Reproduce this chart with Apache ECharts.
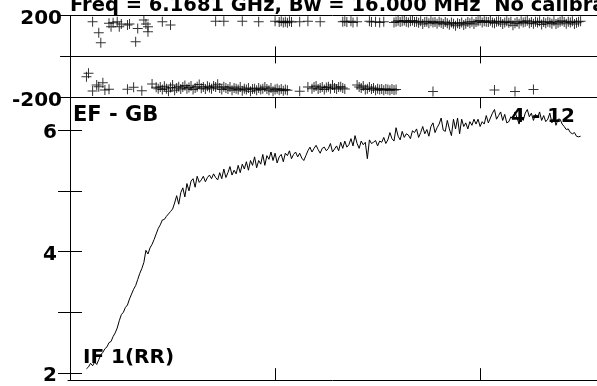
<!DOCTYPE html>
<html lang="en">
<head>
<meta charset="UTF-8">
<title>POSSM EF - GB</title>
<style>
  * { margin: 0; padding: 0; }
  body { background: #fff; }
</style>
</head>
<body>
<div id="main" style="width:597px;height:386px;"></div>
<script src="https://cdn.jsdelivr.net/npm/echarts@6/dist/echarts.min.js"></script>
<script>
var titleText = 'Freq = 6.1681 GHz, Bw = 16.000 MHz  No calibration applied';
var baselineText = 'EF - GB';
var timeText = '4 - 12';
var ifText = 'IF 1(RR)';

// amplitude, one value per channel, first channel = ampStart
var ampStart = 8;
var amp = [
  2.07, 2.10, 2.16, 2.12, 2.18, 2.14, 2.22, 2.30, 2.34, 2.40, 2.43, 2.50,
  2.52, 2.60, 2.66, 2.74, 2.86, 2.96, 3.00, 3.08, 3.12, 3.22, 3.30, 3.38,
  3.44, 3.54, 3.64, 3.72, 3.82, 4.02, 3.96, 4.06, 4.12, 4.20, 4.29, 4.38,
  4.44, 4.52, 4.53, 4.58, 4.62, 4.66, 4.70, 4.80, 4.92, 4.78, 4.97, 5.05,
  4.90, 5.12, 5.00, 5.16, 5.20, 5.06, 5.24, 5.14, 5.18, 5.24, 5.15, 5.22,
  5.26, 5.20, 5.28, 5.22, 5.18, 5.30, 5.20, 5.36, 5.22, 5.30, 5.40, 5.26,
  5.34, 5.28, 5.42, 5.30, 5.44, 5.36, 5.48, 5.34, 5.50, 5.42, 5.56, 5.38,
  5.50, 5.44, 5.60, 5.42, 5.58, 5.52, 5.64, 5.50, 5.62, 5.46, 5.56, 5.60,
  5.48, 5.62, 5.58, 5.66, 5.53, 5.60, 5.64, 5.56, 5.62, 5.54, 5.50, 5.58,
  5.66, 5.72, 5.64, 5.70, 5.75, 5.68, 5.62, 5.70, 5.72, 5.66, 5.70, 5.78,
  5.64, 5.69, 5.74, 5.66, 5.80, 5.70, 5.82, 5.72, 5.76, 5.86, 5.74, 5.91,
  5.78, 5.70, 5.82, 5.76, 5.80, 5.53, 5.84, 5.78, 5.80, 5.83, 5.74, 5.82,
  5.80, 5.88, 5.78, 5.84, 5.96, 5.86, 5.82, 6.04, 5.90, 5.84, 5.98, 5.88,
  5.94, 5.92, 5.86, 5.99, 5.96, 6.02, 5.88, 5.96, 6.06, 5.94, 6.01, 5.90,
  6.06, 6.12, 5.96, 6.04, 6.10, 6.20, 6.00, 5.98, 6.16, 6.02, 5.91, 6.18,
  6.02, 6.20, 5.94, 6.18, 6.06, 6.12, 6.02, 6.14, 6.08, 6.18, 6.10, 6.18,
  6.06, 6.14, 6.10, 6.24, 6.12, 6.20, 6.28, 6.34, 6.18, 6.24, 6.30, 6.16,
  6.26, 6.12, 6.14, 6.22, 6.18, 6.30, 6.20, 6.10, 6.22, 6.16, 6.28, 6.34,
  6.22, 6.28, 6.16, 6.26, 6.20, 6.30, 6.16, 6.24, 6.14, 6.18, 6.28, 6.12,
  6.22, 6.08, 6.18, 6.18, 6.10, 6.06, 6.01, 6.02, 5.96, 5.94, 5.96, 5.90,
  5.89, 5.90
];

// phase points near +180, [channel, degrees]
var phaseHigh = [
  [11,170],[14,116],[15,67],[19,162],[20,145],[21,165],[23,170],[24,145],[25,158],
  [28,154],[29,158],[32,72],[33,137],[36,178],[37,158],[38,145],[38,121],[45,170],[49,154],
  [71,172],[75,172],[84,172],[92,170],[100,172],[102,168],[103,172],[104,166],[105,170],
  [106,164],[107,172],[108,168],[112,170],[116,172],[122,170],[133,170],[134,172],[135,168],
  [137,172],[138,166],[140,170],[146,172],[147,168],[149,170],[151,166],[153,170],
  [158,166],[159,170],[160,174],[161,168],[162,172],[163,176],[164,170],[165,166],[166,172],
  [167,175],[168,168],[169,170],[170,164],[171,172],[172,158],[173,168],[174,170],[175,162],
  [176,172],[177,166],[178,168],[179,160],[180,170],[181,165],[182,158],[183,168],[184,162],
  [185,155],[186,166],[187,160],[188,150],[189,162],[190,158],[191,166],[192,154],[193,160],
  [194,168],[195,162],[196,170],[197,158],[198,168],[199,172],[200,176],[201,166],[202,172],
  [203,170],[204,168],[205,174],[206,166],[207,162],[208,170],[209,172],[210,168],[211,158],
  [212,166],[213,172],[214,164],[215,170],[216,152],[217,162],[218,168],[219,160],[220,172],
  [221,166],[222,170],[223,174],[224,162],[225,168],[226,160],[227,170],[228,166],[229,172],
  [230,156],[231,168],[232,162],[233,170],[234,166],[235,160],[236,172],[237,158],[238,164],
  [239,170],[240,174],[241,168],[242,160],[243,170],[244,166],[245,172],[246,158],[247,164],
  [248,170],[249,172]
];

// phase points near -180, [channel, degrees]
var phaseLow = [
  [8,-99],[9,-83],[11,-169],[13,-140],[14,-148],[16,-129],[17,-164],[19,-161],[28,-161],
  [31,-151],[35,-168],[40,-135],[42,-151],
  [43,-158],[44,-150],[45,-162],[46,-146],[47,-158],[48,-170],[49,-152],[50,-140],[51,-165],
  [52,-155],[53,-148],[54,-160],[55,-150],[56,-142],[57,-158],[58,-152],[59,-145],[60,-162],
  [61,-155],[62,-148],[63,-138],[64,-156],[65,-150],[66,-160],[67,-146],[68,-152],[69,-158],
  [70,-145],[71,-150],[72,-136],[73,-155],[74,-162],[75,-148],[76,-154],[77,-160],[78,-150],
  [79,-165],[80,-155],[81,-158],[82,-162],[83,-150],[84,-168],[85,-158],[86,-162],[87,-155],
  [88,-170],[89,-160],[90,-158],[91,-165],[92,-155],[93,-162],[94,-158],[95,-150],[96,-160],
  [97,-165],[98,-155],[99,-170],[100,-162],[101,-158],[102,-165],[103,-160],[104,-168],
  [105,-162],[106,-165],
  [112,-170],[116,-150],
  [118,-158],[119,-150],[120,-145],[121,-160],[122,-155],[123,-150],[124,-162],[125,-152],
  [126,-148],[127,-158],[128,-140],[129,-155],[130,-160],[131,-150],[132,-148],[133,-155],
  [134,-160],[140,-140],
  [141,-150],[142,-155],[143,-145],[144,-162],[145,-158],[146,-150],[147,-160],[148,-155],
  [149,-165],[150,-158],[151,-162],[152,-160],[153,-165],[154,-160],[155,-162],[156,-165],
  [157,-160],[158,-164],[159,-162],
  [177,-172],[207,-164],[217,-172],[226,-162]
];

var phaseTicks = [-200, 0, 200];
var ampTicks = [2, 3, 4, 5, 6];
var ampLabels = [2, 4, 6];
var chanTicks = [100, 200];

var ampData = amp.map(function (v, i) { return [ampStart + i, v]; });

var font = '"DejaVu Sans", "Liberation Sans", sans-serif';
var black = '#000';
var plus = 'path://M0,4.5h10v1h-10zM4.5,0h1v10h-1z';

function chanAxis(grid, pos, len, showLine) {
  return {
    type: 'value', gridIndex: grid, position: pos, min: -1, max: 257,
    axisLine: { show: showLine, lineStyle: { color: black, width: 1 } },
    axisTick: { show: true, inside: true, length: len, customValues: chanTicks,
      lineStyle: { color: black, width: 1 } },
    axisLabel: { show: false, customValues: chanTicks },
    splitLine: { show: false }
  };
}

// labels sit a little below their tick, as in the original plot
var labelStyle = {
  color: black, fontWeight: 'bold', fontFamily: font, fontSize: 20,
  verticalAlign: 'top', lineHeight: 6
};

var option = {
  animation: false,
  backgroundColor: '#fff',
  grid: [
    { left: 68, top: 15.5, width: 531.5, height: 81.8 },
    { left: 68, top: 97.3, width: 531.5, height: 287.7 }
  ],
  xAxis: [
    chanAxis(0, 'bottom', 10, true),
    chanAxis(0, 'top', 7, true),
    chanAxis(1, 'bottom', 12, true),
    chanAxis(1, 'top', 11, false)
  ],
  yAxis: [
    {
      type: 'value', gridIndex: 0, position: 'left', min: -200, max: 200, interval: 200,
      axisLine: { show: true, lineStyle: { color: black } },
      axisTick: { show: true, inside: true, length: 10, lineStyle: { color: black } },
      axisLabel: Object.assign({ margin: 6,
        formatter: function (v) { return v === 0 ? '' : String(v); } }, labelStyle),
      splitLine: { show: true, lineStyle: { color: black, width: 1 } }
    },
    {
      type: 'value', gridIndex: 0, position: 'right', min: -200, max: 200, interval: 200,
      axisLine: { show: false },
      axisTick: { show: true, inside: true, length: 10, lineStyle: { color: black } },
      axisLabel: { show: false },
      splitLine: { show: false }
    },
    {
      type: 'value', gridIndex: 1, position: 'left', min: 1.882, max: 6.541,
      axisLine: { show: true, lineStyle: { color: black } },
      axisTick: { show: true, inside: true, length: 12, customValues: ampTicks,
        lineStyle: { color: black } },
      axisLabel: Object.assign({ margin: 11, customValues: ampLabels }, labelStyle),
      splitLine: { show: false }
    },
    {
      type: 'value', gridIndex: 1, position: 'right', min: 1.882, max: 6.541,
      axisLine: { show: false },
      axisTick: { show: true, inside: true, length: 12, customValues: ampTicks,
        lineStyle: { color: black } },
      axisLabel: { show: false, customValues: ampTicks },
      splitLine: { show: false }
    }
  ],
  graphic: [
    { type: 'text', x: 70, y: 6, silent: true,
      style: { text: titleText, fill: black, font: 'bold 19.5px ' + font,
        align: 'left', verticalAlign: 'middle' } },
    { type: 'text', x: 73, y: 116, silent: true,
      style: { text: baselineText, fill: black, font: 'bold 21px ' + font,
        align: 'left', verticalAlign: 'middle' } },
    { type: 'text', x: 575, y: 117, silent: true, z: 10,
      style: { text: timeText, fill: black, font: 'bold 20px ' + font,
        align: 'right', verticalAlign: 'middle' } },
    { type: 'text', x: 83, y: 358, silent: true, z: 10,
      style: { text: ifText, fill: black, font: 'bold 20px ' + font,
        align: 'left', verticalAlign: 'middle' } }
  ],
  series: [
    {
      type: 'scatter', xAxisIndex: 0, yAxisIndex: 0, data: phaseHigh,
      symbol: plus, symbolSize: 10, itemStyle: { color: black }
    },
    {
      type: 'scatter', xAxisIndex: 0, yAxisIndex: 0, data: phaseLow,
      symbol: plus, symbolSize: 10, itemStyle: { color: black }
    },
    {
      type: 'line', xAxisIndex: 2, yAxisIndex: 2, data: ampData,
      showSymbol: false, symbol: 'none',
      lineStyle: { color: black, width: 1 }
    }
  ]
};

var chart = echarts.init(document.getElementById('main'));
chart.setOption(option);
</script>
</body>
</html>
